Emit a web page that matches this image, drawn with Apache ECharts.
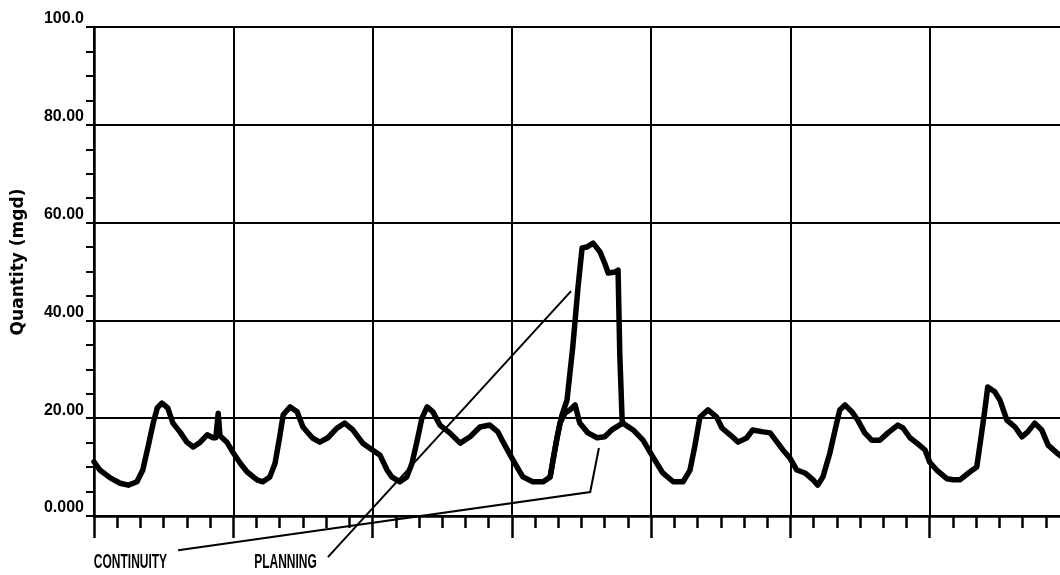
<!DOCTYPE html>
<html>
<head>
<meta charset="utf-8">
<title>Quantity (mgd)</title>
<script src="https://cdn.jsdelivr.net/npm/echarts@6/dist/echarts.min.js"></script>
<style>
  html, body { margin: 0; padding: 0; background: #fff; overflow: hidden; }
  /* the plot runs a little past the right edge of the page */
  #chart { width: 1080px; height: 575px; }
</style>
</head>
<body>
<div id="chart"></div>
<script>
// Hourly flow record over one week (hours from start, flow in mgd)
const CONT_HOURS = [
  0, 1.0, 2.8, 4.5, 5.9, 7.4, 8.4, 9.3, 10.2, 10.9, 11.7, 12.7, 13.6, 14.8, 16.0, 17.1,
  18.3, 19.5, 20.5, 21.0, 21.4, 21.7, 22.9, 23.9, 25.2, 26.4, 28.1, 29.1, 30.3, 31.2,
  32.0, 32.6, 33.8, 35.0, 36.0, 37.6, 38.9, 40.3, 41.9, 43.2, 44.6, 46.3, 48.1, 49.3,
  50.5, 51.3, 52.7, 53.9, 54.8, 55.7, 56.5, 57.4, 58.4, 59.6, 61.3, 63.1, 64.8, 66.5,
  68.2, 69.6, 70.5, 71.7, 72.9, 73.9, 75.6, 77.4, 78.6, 79.4, 80.3, 81.2, 82.0, 82.9,
  83.7, 85.1, 86.7, 88.0, 89.2, 91.1, 92.9, 94.6, 96.3, 98.0, 99.8, 101.5, 102.7,
  103.5, 104.4, 105.8, 107.3, 108.2, 109.6, 111.0, 112.5, 113.5, 115.3, 116.5, 117.7,
  118.7, 119.9, 121.1, 122.5, 123.9, 124.7, 125.6, 126.8, 127.7, 128.5, 129.4, 130.6,
  131.6, 132.8, 134.0, 135.4, 136.8, 138.5, 139.4, 140.6, 141.8, 143.2, 144.0, 145.2,
  147.0, 148.0, 149.2, 150.9, 152.1, 152.7, 153.5, 154.0, 155.2, 156.1, 157.3, 158.7,
  159.9, 160.9, 162.1, 163.3, 164.4, 165.9, 167.5
];
const CONT_VALUES = [
  11.1, 9.4, 7.8, 6.7, 6.3, 7.0, 9.4, 14.1, 19.0, 22.1, 23.1, 22.1, 19.0, 17.2, 15.1, 14.1,
  15.1, 16.6, 16.0, 16.0, 21.0, 16.4, 15.1, 13.1, 10.8, 9.0, 7.4, 7.0, 8.0, 10.8,
  16.2, 20.7, 22.3, 21.3, 18.2, 16.0, 15.1, 16.0, 18.0, 19.0, 17.6, 14.9, 13.4, 12.4,
  9.4, 8.0, 7.0, 8.0, 10.8, 15.5, 20.0, 22.3, 21.3, 18.6, 17.0, 14.9, 16.2, 18.2,
  18.6, 17.2, 15.1, 12.5, 10.0, 8.0, 7.0, 7.0, 8.0, 13.5, 19.0, 21.1, 21.7, 22.7,
  19.0, 17.0, 16.0, 16.2, 17.6, 19.0, 17.6, 15.5, 12.1, 8.8, 7.0, 7.0, 9.4,
  14.1, 20.2, 21.7, 20.2, 18.0, 16.6, 15.1, 16.0, 17.6, 17.2, 17.0, 15.1,
  13.5, 11.9, 9.4, 8.8, 7.4, 6.3, 8.0, 12.9, 17.6, 21.7, 22.7, 21.3,
  19.6, 17.0, 15.5, 15.5, 17.0, 18.6, 18.0, 16.0, 14.9, 13.5, 11.0, 9.4,
  7.6, 7.4, 7.4, 9.0, 10.0, 14.9, 21.7, 26.4, 25.4, 23.7, 19.6, 18.2,
  16.2, 17.2, 19.0, 17.6, 14.5, 12.9, 11.5
];

// Planned-flow excursion on day four
const PLAN_HOURS = [78.6, 79.8, 80.6, 81.5, 82.5, 83.4, 84.1, 84.9, 86.0, 87.2, 88.0, 88.6, 89.8, 90.3, 90.6, 91.0, 91.1];
const PLAN_VALUES = [8.0, 16.2, 20.5, 23.7, 34.6, 46.8, 54.8, 55.0, 55.8, 54.0, 51.7, 49.7, 49.9, 50.3, 33.0, 19.6, 19.0];

const Y_TICKS = [0, 20, 40, 60, 80, 100];
const Y_LABELS = ['0.000', '20.00', '40.00', '60.00', '80.00', '100.0'];
const SERIES_NAMES = ['CONTINUITY', 'PLANNING'];
const Y_TITLE = 'Quantity (mgd)';

// Callout leader paths and label anchors, in data units [hour, mgd]
const CONT_LEADER = [[14.5, -7.0], [85.5, 4.9], [87.0, 13.9]];
const PLAN_LEADER = [[40.3, -8.4], [82.2, 46.0]];
const CONT_LABEL_AT = [12.6, -9.6];
const PLAN_LABEL_AT = [38.4, -9.6];

const zip = (xs, ys) => xs.map((x, i) => [x, ys[i]]);

const PLOTTER = "'Liberation Sans', Arial, sans-serif";
const INK = '#000';

const chart = echarts.init(document.getElementById('chart'), null, { renderer: 'canvas' });

chart.setOption({
  animation: false,
  backgroundColor: '#fff',
  grid: { left: 94, top: 27, width: 975, height: 489, containLabel: false },
  xAxis: {
    type: 'value',
    min: 0,
    max: 168,
    interval: 24,
    axisLine: { show: true, onZero: false, lineStyle: { color: INK, width: 2.5 } },
    axisTick: { show: true, inside: false, length: 22, lineStyle: { color: INK, width: 2.5 } },
    minorTick: { show: true, splitNumber: 6, length: 12, lineStyle: { color: INK, width: 2.5 } },
    axisLabel: { show: false },
    splitLine: { show: true, lineStyle: { color: INK, width: 2 } }
  },
  yAxis: {
    type: 'value',
    min: 0,
    max: 100,
    interval: 20,
    axisLine: { show: true, lineStyle: { color: INK, width: 2.5 } },
    axisTick: { show: true, inside: false, length: 8, lineStyle: { color: INK, width: 2 } },
    minorTick: { show: true, splitNumber: 4, length: 8, lineStyle: { color: INK, width: 2 } },
    axisLabel: {
      margin: 10,
      color: INK,
      fontFamily: PLOTTER,
      fontWeight: 'bold',
      fontSize: 16,
      verticalAlign: 'bottom',
      formatter: v => {
        const i = Y_TICKS.indexOf(v);
        return i >= 0 ? Y_LABELS[i] : '';
      }
    },
    splitLine: { show: true, lineStyle: { color: INK, width: 2 } }
  },
  series: [
    {
      name: SERIES_NAMES[0],
      type: 'line',
      data: zip(CONT_HOURS, CONT_VALUES),
      symbol: 'none',
      lineStyle: { color: INK, width: 5.5, join: 'round', cap: 'round' },
      z: 3
    },
    {
      name: SERIES_NAMES[1],
      type: 'line',
      data: zip(PLAN_HOURS, PLAN_VALUES),
      symbol: 'none',
      lineStyle: { color: INK, width: 5.5, join: 'round', cap: 'round' },
      z: 3
    }
  ]
});

// Callout lines and labels placed through the grid's coordinate system
const px = p => chart.convertToPixel({ gridIndex: 0 }, p);
const contLabel = px(CONT_LABEL_AT);
const planLabel = px(PLAN_LABEL_AT);

// narrow plotter-style lettering for the callouts
const calloutText = (text, at) => ({
  type: 'text',
  x: at[0],
  y: at[1],
  scaleX: 0.6,
  style: {
    text: text,
    fill: INK,
    font: "bold 20px " + PLOTTER,
    align: 'right',
    verticalAlign: 'middle'
  }
});

chart.setOption({
  graphic: [
    {
      type: 'text',
      x: 19,
      y: 262,
      rotation: Math.PI / 2,
      style: {
        text: Y_TITLE,
        fill: INK,
        font: "bold 17px 'DejaVu Sans', sans-serif",
        align: 'center',
        verticalAlign: 'middle'
      }
    },
    {
      type: 'polyline',
      shape: { points: CONT_LEADER.map(px) },
      style: { stroke: INK, lineWidth: 2, fill: null },
      z: 10
    },
    {
      type: 'polyline',
      shape: { points: PLAN_LEADER.map(px) },
      style: { stroke: INK, lineWidth: 2, fill: null },
      z: 10
    },
    calloutText(SERIES_NAMES[0], contLabel),
    calloutText(SERIES_NAMES[1], planLabel)
  ]
});
</script>
</body>
</html>
